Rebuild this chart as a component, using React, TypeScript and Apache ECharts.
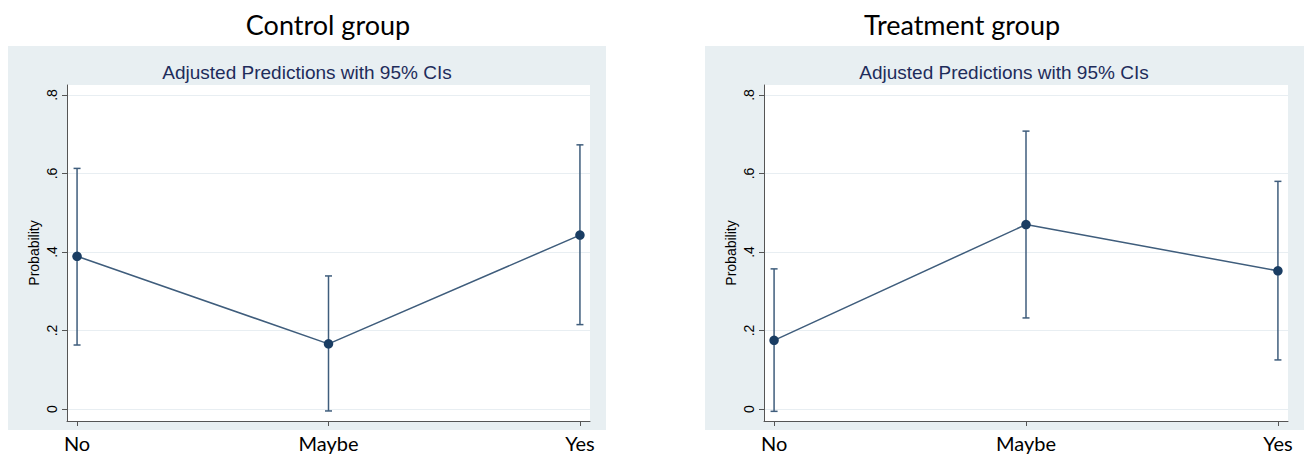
import { useEffect, useRef } from 'react';
import * as echarts from 'echarts';

const categories = ['No', 'Maybe', 'Yes'];
const categoryPositions = [0, 1, 2];
const yTickValues = [0, 0.2, 0.4, 0.6, 0.8];

const controlMargins = [0.389, 0.166, 0.443];
const controlLower = [0.163, -0.005, 0.215];
const controlUpper = [0.613, 0.339, 0.673];

const treatmentMargins = [0.175, 0.47, 0.352];
const treatmentLower = [-0.006, 0.232, 0.125];
const treatmentUpper = [0.357, 0.708, 0.58];

const panelTitles = ['Control group', 'Treatment group'];
const innerTitle = 'Adjusted Predictions with 95% CIs';
const yAxisName = 'Probability';

const LINE_COLOR = '#3f5d7c';
const POINT_COLOR = '#1a3d63';
const BG_BLUE = '#e8eff2';
const AXIS_COLOR = '#555';
const GRID_LINE = '#e8eef2';
const SANS = '"Liberation Sans", Arial, sans-serif';
const DOC_FONT = 'Lato, "Open Sans", sans-serif';

function fmtY(v: number) {
  if (Math.abs(v) < 1e-9) return '0';
  return v.toFixed(1).replace(/^0\./, '.');
}

export default function App() {
  const ref = useRef<HTMLDivElement>(null);
  useEffect(() => {
    if (!ref.current) return;
    const chart = echarts.init(ref.current, null, { renderer: 'svg' });

    const grids = [
      { left: 67, top: 85, width: 523, height: 336 },
      { left: 764, top: 85, width: 524, height: 336 },
    ];
    const panels = [
      { x: 8, y: 46, w: 598, h: 384, titleX: 307, outerX: 328 },
      { x: 705, y: 46, w: 599, h: 384, titleX: 1004, outerX: 962 },
    ];
    const groups = [
      { m: controlMargins, lo: controlLower, hi: controlUpper },
      { m: treatmentMargins, lo: treatmentLower, hi: treatmentUpper },
    ];

    const xAxes = grids.map((_, i) => ({
      type: 'value',
      gridIndex: i,
      min: -0.04,
      max: 2.04,
      axisLine: { show: true, onZero: false, lineStyle: { color: AXIS_COLOR, width: 1 } },
      axisTick: { show: true, customValues: categoryPositions, length: 5, lineStyle: { color: AXIS_COLOR } },
      axisLabel: {
        customValues: categoryPositions,
        formatter: (v: number) => categories[Math.round(v)] ?? '',
        fontFamily: DOC_FONT,
        fontSize: 20,
        color: '#000',
        margin: 12,
      },
      splitLine: { show: false },
    }));

    const yAxes = grids.map((_, i) => ({
      type: 'value',
      gridIndex: i,
      min: -0.0306,
      max: 0.8255,
      name: yAxisName,
      nameLocation: 'middle',
      nameGap: 26,
      nameTextStyle: { fontFamily: SANS, fontSize: 14, color: '#000' },
      axisLine: { show: true, onZero: false, lineStyle: { color: AXIS_COLOR, width: 1 } },
      axisTick: { show: true, customValues: yTickValues, length: 5, lineStyle: { color: AXIS_COLOR } },
      axisLabel: {
        customValues: yTickValues,
        formatter: fmtY,
        rotate: 90,
        fontFamily: SANS,
        fontSize: 14,
        color: '#000',
        margin: 8,
      },
      splitLine: { show: true, lineStyle: { color: GRID_LINE, width: 1 } },
    }));

    const series: any[] = [];
    groups.forEach((g, i) => {
      series.push({
        type: 'custom',
        xAxisIndex: i,
        yAxisIndex: i,
        data: categoryPositions.map((c, k) => [c, g.lo[k], g.hi[k]]),
        encode: { x: 0, y: [1, 2] },
        z: 2,
        renderItem: (_params: any, api: any) => {
          const x = api.value(0);
          const lo = api.coord([x, api.value(1)]);
          const hi = api.coord([x, api.value(2)]);
          const style = { stroke: LINE_COLOR, lineWidth: 1.5, fill: 'none' };
          const cap = 3.5;
          return {
            type: 'group',
            children: [
              { type: 'line', shape: { x1: lo[0], y1: lo[1], x2: hi[0], y2: hi[1] }, style },
              { type: 'line', shape: { x1: lo[0] - cap, y1: lo[1], x2: lo[0] + cap, y2: lo[1] }, style },
              { type: 'line', shape: { x1: hi[0] - cap, y1: hi[1], x2: hi[0] + cap, y2: hi[1] }, style },
            ],
          };
        },
      });
      series.push({
        type: 'line',
        xAxisIndex: i,
        yAxisIndex: i,
        data: categoryPositions.map((c, k) => [c, g.m[k]]),
        symbol: 'circle',
        symbolSize: 9.5,
        showSymbol: true,
        z: 3,
        lineStyle: { color: LINE_COLOR, width: 1.5 },
        itemStyle: { color: POINT_COLOR },
      });
    });

    const graphic: any[] = [];
    panels.forEach((p, i) => {
      graphic.push({
        type: 'rect',
        z: -10,
        shape: { x: p.x, y: p.y, width: p.w, height: p.h },
        style: { fill: BG_BLUE },
        silent: true,
      });
      graphic.push({
        type: 'text',
        x: p.titleX,
        y: 72,
        style: {
          text: innerTitle,
          fontFamily: SANS,
          fontSize: 19,
          fill: '#1e2c5b',
          textAlign: 'center',
          textVerticalAlign: 'middle',
        },
      });
      graphic.push({
        type: 'text',
        x: p.outerX,
        y: 24,
        style: {
          text: panelTitles[i],
          fontFamily: DOC_FONT,
          fontSize: 27,
          fill: '#000',
          textAlign: 'center',
          textVerticalAlign: 'middle',
        },
      });
    });

    chart.setOption({
      animation: false,
      backgroundColor: '#fff',
      grid: grids.map((g) => ({ ...g, show: true, backgroundColor: '#fff', borderWidth: 0, containLabel: false })),
      xAxis: xAxes,
      yAxis: yAxes,
      series,
      graphic,
    });

    return () => chart.dispose();
  }, []);

  return (
    <div
      ref={ref}
      style={{ position: 'fixed', left: 0, top: 0, width: 1304, height: 457 }}
    />
  );
}
